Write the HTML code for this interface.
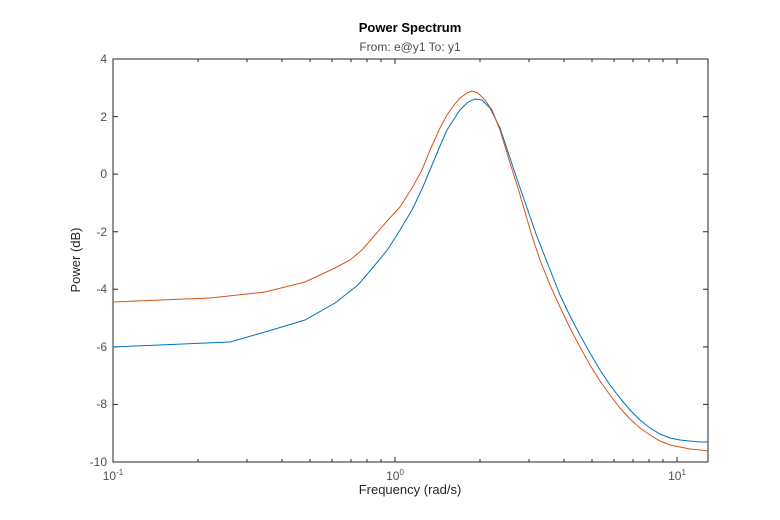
<!DOCTYPE html>
<html><head><meta charset="utf-8"><style>body{margin:0;background:#fff}svg{display:block}text{font-family:"Liberation Sans",sans-serif}</style></head><body>
<svg width="780" height="520" xmlns="http://www.w3.org/2000/svg">
<rect width="780" height="520" fill="#fff"/>
<text x="410" y="32" font-size="13" font-weight="bold" text-anchor="middle" fill="#000">Power Spectrum</text>
<text x="410" y="51" font-size="12" text-anchor="middle" fill="#4d4d4d">From: e@y1  To: y1</text>
<rect x="113" y="59" width="595" height="403" fill="none" stroke="#262626" stroke-width="1"/>
<g stroke="#262626" stroke-width="1">
<path d="M113,59v4M395,59v5M677,59v5M113,462v-5M395,462v-5M677,462v-5"/>
<path d="M198,462v-3M247,462v-3M282,462v-3M310,462v-3M332,462v-3M351,462v-3M367,462v-3M381,462v-3M480,462v-3M529,462v-3M564,462v-3M592,462v-3M614,462v-3M633,462v-3M649,462v-3M663,462v-3M198,59v3M247,59v3M282,59v3M310,59v3M332,59v3M351,59v3M367,59v3M381,59v3M480,59v3M529,59v3M564,59v3M592,59v3M614,59v3M633,59v3M649,59v3M663,59v3"/>
<path d="M113,59h5M113,116.6h5M113,174.1h5M113,231.7h5M113,289.3h5M113,346.9h5M113,404.4h5M708,59h-5M708,116.6h-5M708,174.1h-5M708,231.7h-5M708,289.3h-5M708,346.9h-5M708,404.4h-5"/>
</g>
<g font-size="12" fill="#4d4d4d" text-anchor="end">
<text x="107" y="63">4</text><text x="107" y="121">2</text><text x="107" y="178">0</text><text x="107" y="236">-2</text><text x="107" y="293">-4</text><text x="107" y="351">-6</text><text x="107" y="408">-8</text><text x="107" y="466">-10</text>
</g>
<g font-size="12" fill="#4d4d4d" text-anchor="middle">
<text x="113" y="480">10<tspan font-size="8" dy="-5">-1</tspan></text>
<text x="395" y="480">10<tspan font-size="8" dy="-5">0</tspan></text>
<text x="677" y="480">10<tspan font-size="8" dy="-5">1</tspan></text>
</g>
<text x="410" y="494" font-size="13" text-anchor="middle" fill="#262626">Frequency  (rad/s)</text>
<text transform="translate(80,260) rotate(-90)" font-size="13" text-anchor="middle" fill="#262626">Power (dB)</text>
<polyline fill="none" stroke="#0072bd" stroke-width="1" points="113,347 230,342 265,332 305,320 335,303 358,285 375,265 388,249 400,230 412,210 422,189 430,170 440,146 447,130 454,119 460,110 468,102 475,99 482,100 490,108 500,128 510,158 518,182 525,202 536,234 547,262 560,295 570,316 580,335 590,353 600,370 610,385 620,398 630,410 640,420 650,428 660,434 670,438 680,440 690,441 700,442 708,442"/>
<polyline fill="none" stroke="#d95319" stroke-width="1" points="113,302 210,298 265,292 305,282 335,268 350,260 362,250 375,235 388,220 400,207 412,188 422,170 430,150 440,128 447,115 454,105 460,98 467,93 472,91 478,93 485,100 492,110 500,130 510,163 518,188 525,212 532,236 540,260 550,285 560,307 570,328 580,347 590,365 600,381 610,395 620,408 630,419 640,428 650,435 660,441 670,445 680,447 690,449 700,450 708,451"/>
</svg>
</body></html>
